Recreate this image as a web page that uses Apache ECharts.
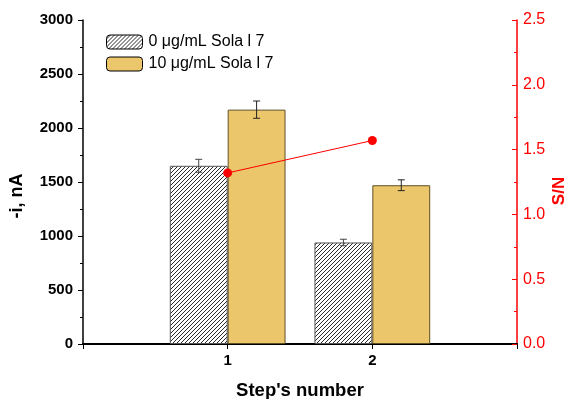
<!DOCTYPE html>
<html>
<head>
<meta charset="utf-8">
<script src="https://cdn.jsdelivr.net/npm/echarts@6/dist/echarts.min.js"></script>
<style>
  html, body { margin: 0; padding: 0; background: #fff; }
  #chart { width: 570px; height: 399px; }
</style>
</head>
<body>
<div id="chart"></div>
<script>
// Step positions on the x axis (0 and 3 are only the axis ends)
const steps = ['0', '1', '2', '3'];
const shownSteps = ['1', '2'];

// Current response (-i, nA) with standard deviations
const blankCurrent = [null, 1650, 940, null];
const blankError = [null, 60, 30, null];
const sampleCurrent = [null, 2170, 1470, null];
const sampleError = [null, 80, 50, null];

// Signal-to-noise ratio per step
const signalToNoise = [null, 1.32, 1.57, null];

const seriesNames = ['0 μg/mL Sola l 7', '10 μg/mL Sola l 7'];

// Diagonal hatch fill for the blank bars
function makeHatch() {
  const s = 4;
  const c = document.createElement('canvas');
  c.width = s; c.height = s;
  const g = c.getContext('2d');
  g.fillStyle = '#ffffff';
  g.fillRect(0, 0, s, s);
  g.strokeStyle = '#111111';
  g.lineWidth = 0.9;
  g.beginPath();
  g.moveTo(0, s); g.lineTo(s, 0);
  g.moveTo(-1, 1); g.lineTo(1, -1);
  g.moveTo(s - 1, s + 1); g.lineTo(s + 1, s - 1);
  g.stroke();
  return c;
}
const hatch = { image: makeHatch(), repeat: 'repeat' };

function errorData(values, errors) {
  const out = [];
  values.forEach((v, i) => {
    if (v != null) out.push([i, v, errors[i]]);
  });
  return out;
}

function errorSeries(values, errors, side, color) {
  return {
    type: 'custom',
    xAxisIndex: 0,
    yAxisIndex: 0,
    z: 5,
    silent: true,
    data: errorData(values, errors),
    renderItem: function (params, api) {
      const i = api.value(0);
      const v = api.value(1);
      const e = api.value(2);
      const band = api.size([1, 0])[0];
      const hi = api.coord([i, v + e]);
      const lo = api.coord([i, v - e]);
      const x = hi[0] + side * band * 0.2;
      const cap = 3.5;
      const style = { stroke: color, lineWidth: 1 };
      return {
        type: 'group',
        children: [
          { type: 'line', shape: { x1: x, y1: hi[1], x2: x, y2: lo[1] }, style: style },
          { type: 'line', shape: { x1: x - cap, y1: hi[1], x2: x + cap, y2: hi[1] }, style: style },
          { type: 'line', shape: { x1: x - cap, y1: lo[1], x2: x + cap, y2: lo[1] }, style: style }
        ]
      };
    }
  };
}

const chart = echarts.init(document.getElementById('chart'), null, { renderer: 'canvas' });

const option = {
  animation: false,
  backgroundColor: '#ffffff',
  textStyle: { fontFamily: 'Liberation Sans, Arial, sans-serif' },
  grid: { left: 83, right: 53, top: 20, bottom: 55, containLabel: false, outerBoundsMode: 'none' },
  legend: {
    data: seriesNames,
    orient: 'vertical',
    left: 101,
    top: 29,
    itemWidth: 36,
    itemHeight: 14,
    itemGap: 6,
    textStyle: { fontSize: 16, color: '#000', fontFamily: 'Liberation Sans, Arial, sans-serif', padding: [0, 0, 0, 1] },
    itemStyle: { borderColor: '#000', borderWidth: 1 }
  },
  xAxis: [
    {
      type: 'category',
      data: steps,
      boundaryGap: false,
      position: 'bottom',
      name: "Step's number",
      nameLocation: 'middle',
      nameGap: 37.5,
      nameTextStyle: { fontSize: 18.5, fontWeight: 'bold', color: '#000' },
      axisLine: { lineStyle: { color: '#000', width: 2 } },
      axisTick: { show: true, length: 5, lineStyle: { color: '#000', width: 1 } },
      axisLabel: {
        color: '#000', fontSize: 15, fontWeight: 'bold', margin: 9,
        formatter: v => (shownSteps.indexOf(v) >= 0 ? v : '')
      },
      splitLine: { show: false }
    },
    {
      type: 'category',
      data: steps,
      boundaryGap: false,
      position: 'top',
      axisLine: { lineStyle: { color: '#000', width: 1.5 } },
      axisTick: { show: false },
      axisLabel: { show: false },
      splitLine: { show: false }
    }
  ],
  yAxis: [
    {
      type: 'value',
      min: 0, max: 3000, interval: 500,
      position: 'left',
      name: '-i, nA',
      nameLocation: 'middle',
      nameGap: 57,
      nameRotate: 90,
      nameTextStyle: { fontSize: 18, fontWeight: 'bold', color: '#000', padding: [0, 28, 0, 0] },
      axisLine: { show: true, lineStyle: { color: '#000', width: 1.5 } },
      axisTick: { show: true, length: 5, lineStyle: { color: '#000' } },
      minorTick: { show: true, splitNumber: 2, length: 3, lineStyle: { color: '#000' } },
      axisLabel: { color: '#000', fontSize: 15, fontWeight: 'bold', margin: 10, formatter: v => String(v) },
      splitLine: { show: false }
    },
    {
      type: 'value',
      min: 0, max: 2.5, interval: 0.5,
      position: 'right',
      name: 'S/N',
      nameLocation: 'middle',
      nameGap: 34,
      nameMoveOverlap: false,
      nameRotate: 90,
      nameTextStyle: { fontSize: 17, fontWeight: 'bold', color: '#ff0000', padding: [0, 18, 0, 0] },
      axisLine: { show: true, lineStyle: { color: '#ff0000', width: 1.5 } },
      axisTick: { show: true, inside: true, length: 5, lineStyle: { color: '#ff0000' } },
      minorTick: { show: true, splitNumber: 2, length: 3, lineStyle: { color: '#ff0000' } },
      axisLabel: { color: '#ff0000', fontSize: 16, margin: 6, formatter: v => v.toFixed(1) },
      splitLine: { show: false }
    }
  ],
  series: [
    {
      name: seriesNames[0],
      type: 'bar',
      xAxisIndex: 0,
      yAxisIndex: 0,
      data: blankCurrent,
      barWidth: '40%',
      barGap: '0%',
      itemStyle: { color: hatch, borderColor: '#555555', borderWidth: 1 }
    },
    {
      name: seriesNames[1],
      type: 'bar',
      xAxisIndex: 0,
      yAxisIndex: 0,
      data: sampleCurrent,
      barWidth: '40%',
      barGap: '0%',
      itemStyle: { color: '#ecc66b', borderColor: '#5e5024', borderWidth: 1 }
    },
    errorSeries(blankCurrent, blankError, -1, '#444444'),
    errorSeries(sampleCurrent, sampleError, 1, '#222222'),
    {
      name: 'S/N',
      type: 'line',
      xAxisIndex: 0,
      yAxisIndex: 1,
      data: signalToNoise,
      z: 6,
      symbol: 'circle',
      symbolSize: 9,
      connectNulls: false,
      lineStyle: { color: '#ff0000', width: 1 },
      itemStyle: { color: '#ff0000' }
    }
  ]
};

chart.setOption(option);
</script>
</body>
</html>
